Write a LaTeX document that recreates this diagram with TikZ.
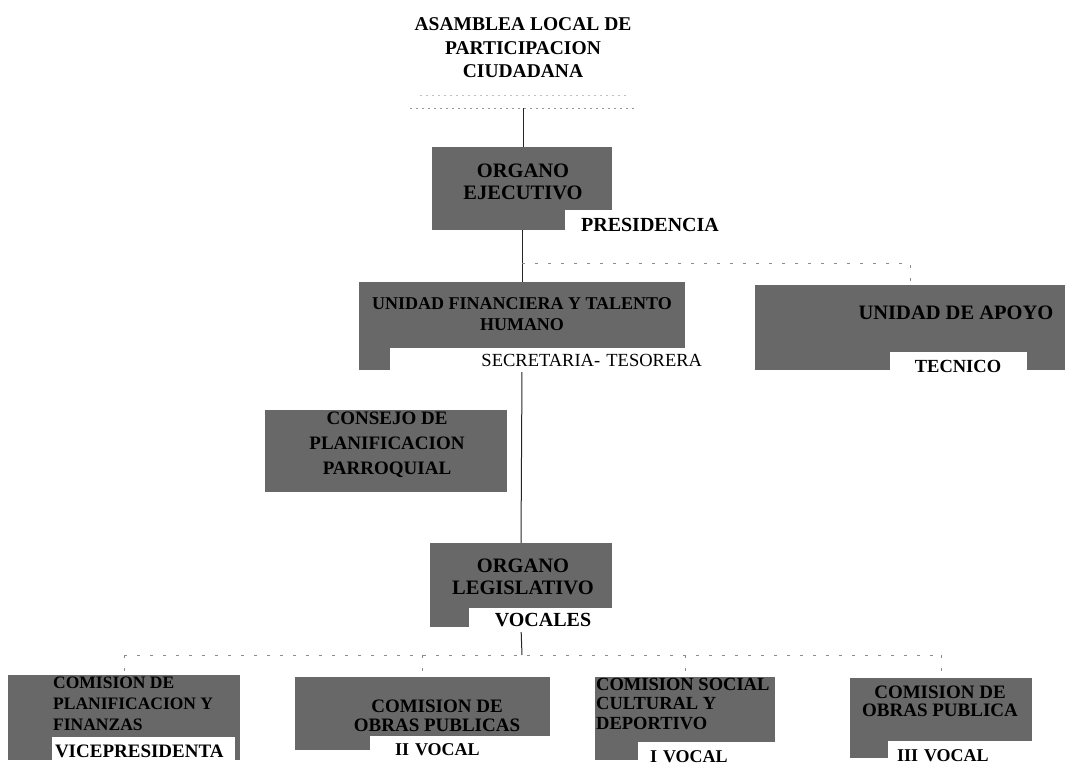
\documentclass[tikz,border=0pt]{standalone}
\usepackage{fontspec}
\setmainfont{Liberation Serif}
\pgfdeclarelayer{background}
\pgfsetlayers{background,main}
\definecolor{boxgray}{RGB}{104,104,104}
\newcommand{\fsz}[2]{\fontsize{#1}{#2}\selectfont}
\tikzset{
  gbox/.style={draw=none, fill=boxgray, inner sep=0pt, rectangle},
  lbox/.style={draw=none, fill=white, inner sep=0pt, rectangle, font=\bfseries\fsz{18}{19}},
  btxt/.style={inner sep=0pt, font=\bfseries\fsz{18}{21.5}, align=center},
  stxt/.style={inner sep=0pt, font=\bfseries\fsz{17.5}{19.5}},
  conn/.style={draw=black!85, line width=1pt},
  bus/.style={draw=black!45, line width=0.9pt, dash pattern=on 3pt off 10pt},
  speck/.style={draw=black!40, line width=0.9pt, dash pattern=on 2pt off 4pt}
}
\begin{document}
\begin{tikzpicture}[x=1pt,y=-1pt]
\useasboundingbox (0,0) rectangle (1068,771);
% title
\node[btxt, font=\bfseries\fsz{19.5}{23.5}] (asam) at (523,48) {ASAMBLEA LOCAL DE\\PARTICIPACION\\CIUDADANA};
\coordinate (abase) at (523,108);
% organo ejecutivo
\node[gbox, minimum width=180pt, minimum height=83pt] (ejec) at (522,188.5) {};
\node[btxt, font=\bfseries\fsz{20.5}{22}] (tejec) at (523,182) {ORGANO\\EJECUTIVO};
\node[lbox, font=\bfseries\fsz{20}{21}, minimum width=170pt, minimum height=30pt] (pres) at (650,225) {PRESIDENCIA};
% unidad financiera
\node[gbox, minimum width=326pt, minimum height=88pt] (fin) at (522,326) {};
\node[btxt] (tfin) at (522,314) {UNIDAD FINANCIERA Y TALENTO\\HUMANO};
\node[lbox, font=\fsz{18.5}{19}, minimum height=24pt, inner xsep=3pt, text width=309pt, align=right] (sec) at (547.5,360) {SECRETARIA- TESORERA};
% unidad de apoyo
\node[gbox, minimum width=310pt, minimum height=85pt] (apoyo) at (910,327.5) {};
\node[btxt, font=\bfseries\fsz{20.5}{22}] (tapoyo) at (956,313) {UNIDAD DE APOYO};
\node[lbox, font=\bfseries\fsz{18.5}{20}, minimum width=137pt, minimum height=28pt] (tec) at (958,366) {TECNICO};
% consejo
\node[gbox, minimum width=242pt, minimum height=82pt] (cons) at (386,451) {};
\node[btxt, font=\bfseries\fsz{19}{25}] (tcons) at (387,445) {CONSEJO DE\\PLANIFICACION\\PARROQUIAL};
% organo legislativo
\node[gbox, minimum width=182pt, minimum height=84pt] (leg) at (521,585) {};
\node[btxt, font=\bfseries\fsz{20.5}{22}] (tleg) at (523,577) {ORGANO\\LEGISLATIVO};
\node[lbox, font=\bfseries\fsz{20}{21}, minimum width=148pt, minimum height=24pt] (voc) at (543,620) {VOCALES};
% bottom boxes
\node[gbox, minimum width=232pt, minimum height=85pt] (b1) at (124,717.5) {};
\node[stxt, font=\bfseries\fsz{17.5}{21}, align=left, anchor=west] (tb1) at (53,704) {COMISION DE\\PLANIFICACION Y\\FINANZAS};
\node[lbox, font=\bfseries\fsz{19}{20}, minimum height=28pt, inner xsep=3pt, text width=177pt, align=left] (vp) at (143.5,751) {VICEPRESIDENTA};

\node[gbox, minimum width=255pt, minimum height=73pt] (b2) at (422.5,713.5) {};
\node[stxt, font=\bfseries\fsz{19}{19}, align=center] (tb2) at (437,716) {COMISION DE\\OBRAS PUBLICAS};
\node[lbox, minimum height=28pt, inner xsep=25pt, text width=132pt, align=left] (v2) at (461,750) {II VOCAL};

\node[gbox, minimum width=180pt, minimum height=83pt] (b3) at (685,718.5) {};
\node[stxt, font=\bfseries\fsz{18.5}{19.5}, align=left, anchor=west] (tb3) at (596,704) {COMISION SOCIAL\\CULTURAL Y\\DEPORTIVO};
\node[lbox, minimum height=29pt, inner xsep=12pt, text width=113pt, align=left] (v1) at (706.5,756.5) {I VOCAL};

\node[gbox, minimum width=182pt, minimum height=80pt] (b4) at (941,718) {};
\node[stxt, font=\bfseries\fsz{19}{18}, align=center] (tb4) at (940,701.5) {COMISION DE\\OBRAS PUBLICA};
\node[lbox, minimum height=30pt, inner xsep=9pt, text width=126pt, align=left] (v3) at (960,756) {III VOCAL};

% connectors
\begin{pgfonlayer}{background}
\draw[speck] (410,108) -- (637,108);
\draw[speck, draw=black!25] (420,95) -- (630,95);
\draw[conn] (abase) -- (ejec.north -| abase);
\draw[conn] (ejec.south) -- (fin.north);
\coordinate (j1) at (522,263);
\draw[bus] (j1) -- (j1 -| apoyo.north) -- (apoyo.north);
\draw[conn] (fin.south) -- (leg.north);
\coordinate (j2) at (522,655);
\draw[conn] (leg.south) -- (j2);
\draw[bus] (j2 -| b1.north) -- (j2 -| b4.north);
\draw[bus] (j2 -| b1.north) -- (b1.north);
\draw[bus] (j2 -| b2.north) -- (b2.north);
\draw[bus] (j2 -| b3.north) -- (b3.north);
\draw[bus] (j2 -| b4.north) -- (b4.north);
\end{pgfonlayer}
\end{tikzpicture}
\end{document}
